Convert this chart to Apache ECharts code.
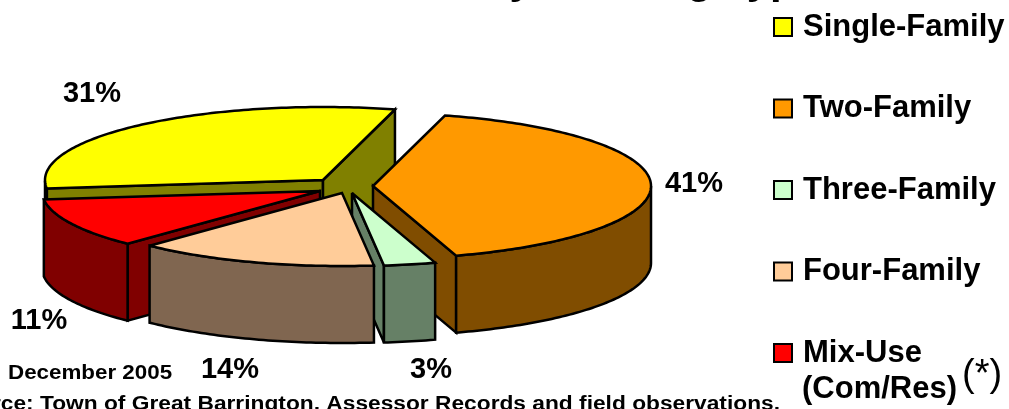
<!DOCTYPE html>
<html>
<head>
<meta charset="utf-8">
<style>html,body{margin:0;padding:0;background:#fff;overflow:hidden}#c{width:1009px;height:409px}</style>
<script src="https://cdn.jsdelivr.net/npm/echarts@6/dist/echarts.min.js"></script>
</head>
<body>
<div id="c"></div>
<script>
// Data, in the pie's own clockwise order starting at the Two-Family slice
const categories = ['Two-Family', 'Three-Family', 'Four-Family', 'Mix-Use (Com/Res)', 'Single-Family'];
const shares = [41, 3, 14, 11, 31];
const legendOrder = ['Single-Family', 'Two-Family', 'Three-Family', 'Four-Family', 'Mix-Use (Com/Res)'];

// Styling and layout
const topColors = ['#FF9900', '#CCFFCC', '#FFCC99', '#FF0000', '#FFFF00'];
const sideColors = ['#804D00', '#668066', '#806650', '#800000', '#808000'];
const drawOrder = [4, 3, 0, 1, 2];
const explode = [[23, 0], [2, 7], [-8, 7], [-30, 5], [-27, -6]];
const labelAnchors = [[694, 184], [431, 370], [230, 370], [39, 321], [92, 94]];
const FONT = '"Liberation Sans", Arial, sans-serif';
const CX = 350, CY = 186, RX = 278, RY = 73, DEPTH = 77, START = -75;

const total = shares.reduce((a, b) => a + b, 0);
const spans = [];
let acc = START;
shares.forEach(v => { const s = v / total * 360; spans.push([acc, acc + s]); acc += s; });
const rad = d => d * Math.PI / 180;

function slicePaths(i) {
  const [a0, a1] = spans[i];
  const ax = CX + explode[i][0];
  const ay = CY + explode[i][1];
  const pt = a => [ax + RX * Math.cos(rad(a)), ay + RY * Math.sin(rad(a))];
  const down = p => [p[0], p[1] + DEPTH];
  const arc = [];
  for (let a = a0; a < a1; a += 1) arc.push(pt(a));
  arc.push(pt(a1));
  const faces = [];
  if (Math.cos(rad(a0)) < 0) faces.push([[ax, ay], pt(a0), down(pt(a0)), [ax, ay + DEPTH]]);
  if (Math.cos(rad(a1)) > 0) faces.push([[ax, ay], pt(a1), down(pt(a1)), [ax, ay + DEPTH]]);
  // outer wall: only the part of the rim that faces the viewer
  const front = [];
  for (let a = a0; a <= a1; a += 1) { if (Math.sin(rad(a)) >= 0) front.push(pt(a)); }
  if (Math.sin(rad(a1)) >= 0) front.push(pt(a1));
  if (front.length > 1) faces.push(front.concat(front.slice().reverse().map(down)));
  return { faces, top: [[ax, ay]].concat(arc) };
}

function makeRender(i) {
  return function (params, api) {
    const val = api.value(0);
    const p = slicePaths(i);
    const line = { stroke: '#000', lineWidth: 2.5, lineJoin: 'miter', miterLimit: 3 };
    const children = p.faces.map(f => ({
      type: 'polygon', shape: { points: f },
      style: Object.assign({ fill: sideColors[i] }, line)
    }));
    children.push({
      type: 'polygon', shape: { points: p.top },
      style: Object.assign({ fill: topColors[i] }, line)
    });
    children.push({
      type: 'text', z2: 100,
      style: {
        x: labelAnchors[i][0], y: labelAnchors[i][1], text: val + '%',
        font: 'bold 29px ' + FONT, fill: '#000', align: 'center', verticalAlign: 'middle'
      }
    });
    return { type: 'group', children };
  };
}

const txt = (x, y, text, font, align, scaleX) => ({
  type: 'text', x, y, z: 10, scaleX: scaleX || 1,
  style: { text, font: font + ' ' + FONT, fill: '#000', align: align || 'left', verticalAlign: 'middle' }
});

const chart = echarts.init(document.getElementById('c'), null, { renderer: 'canvas' });
chart.setOption({
  animation: false,
  backgroundColor: '#fff',
  legend: {
    data: legendOrder,
    orient: 'vertical',
    left: 773, top: 10, padding: 0,
    itemWidth: 18, itemHeight: 18, itemGap: 47.5,
    icon: 'rect',
    selectedMode: false,
    itemStyle: { borderColor: '#000', borderWidth: 2 },
    formatter: n => n.split(' (')[0],
    textStyle: { fontFamily: FONT, fontWeight: 'bold', fontSize: 31, color: '#000', lineHeight: 34, padding: [0, 0, 0, 6] }
  },
  graphic: [
    txt(819, -19, 'Parcels by Housing Type', 'bold 42px', 'right'),
    txt(802, 389, '(Com/Res)', 'bold 31px'),
    txt(962, 376, '(*)', '38px'),
    txt(8, 373, 'December 2005', 'bold 20px', 'left', 1.118),
    txt(780, 404, 'Source: Town of Great Barrington, Assessor Records and field observations.', 'bold 20px', 'right', 1.137)
  ],
  series: drawOrder.map(i => ({
    type: 'custom',
    name: categories[i],
    coordinateSystem: 'none',
    itemStyle: { color: topColors[i] },
    data: [[shares[i]]],
    renderItem: makeRender(i),
    z: 2
  }))
});
</script>
</body>
</html>
